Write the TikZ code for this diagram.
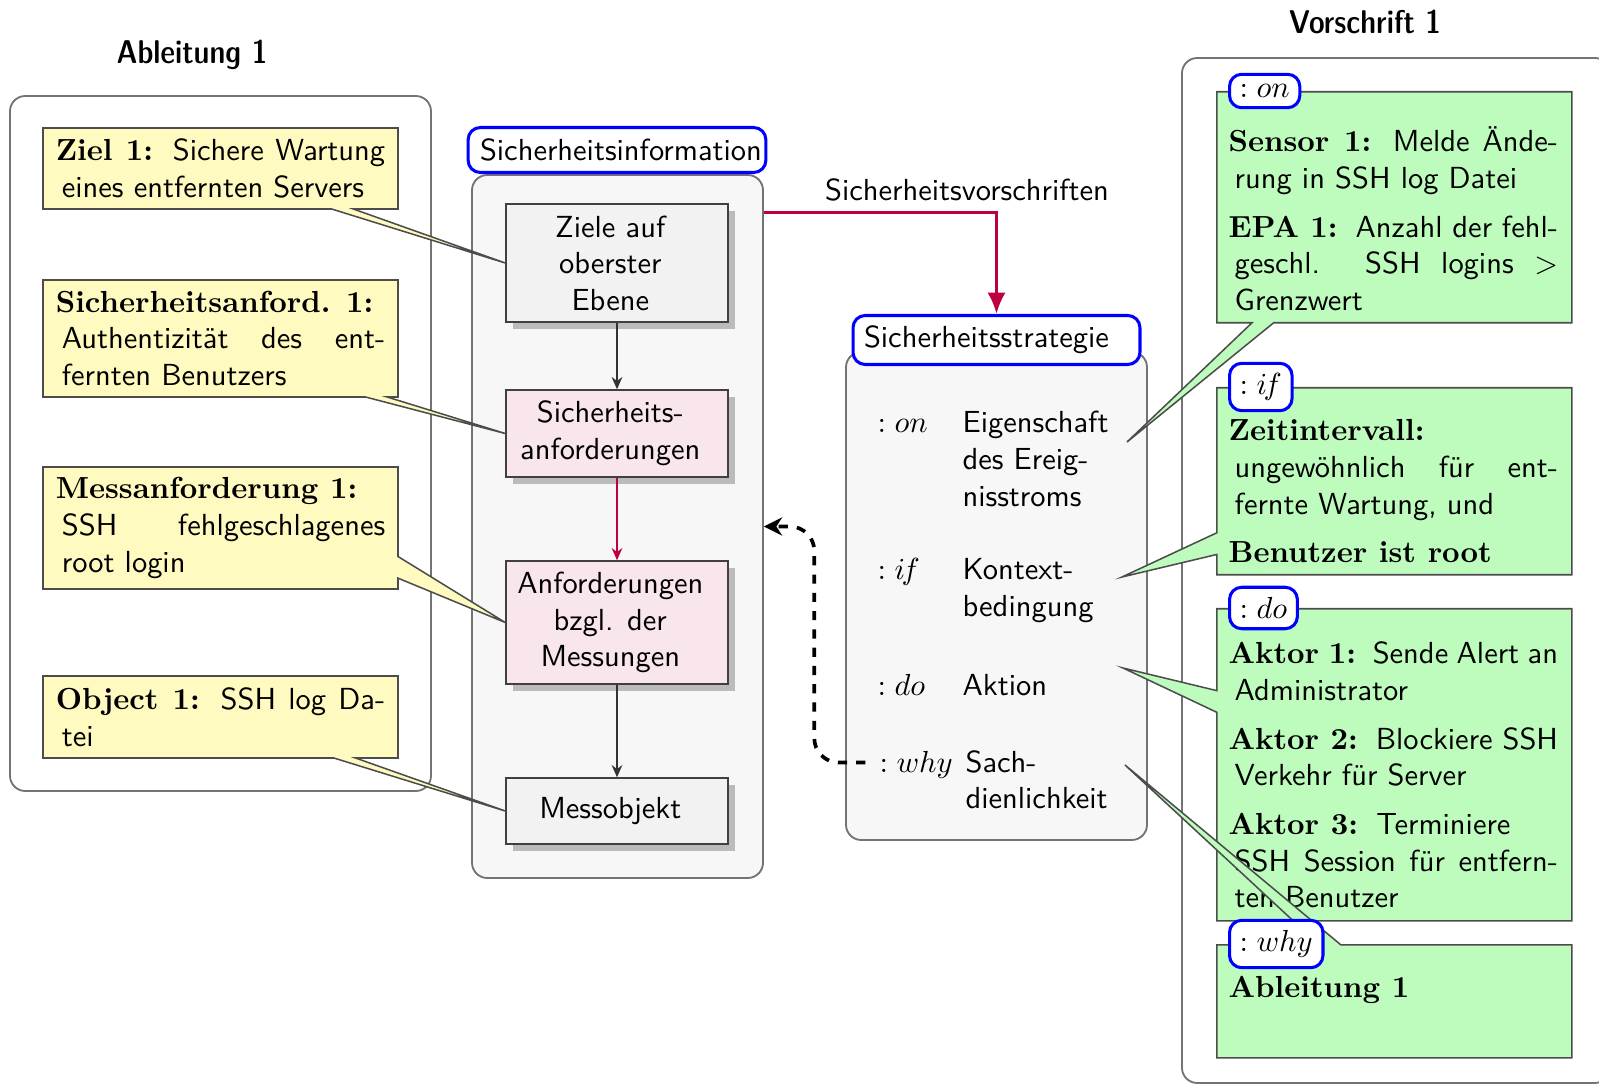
\documentclass[tikz,border=0pt]{standalone}
\usepackage{fontspec}
\newfontfamily\dcfont{lmsansdemicond10-regular.otf}
\usetikzlibrary{shapes.callouts,shadows,arrows.meta}

\newdimen\pxu \pxu=0.01153cm

\definecolor{notegelb}{RGB}{255,250,192}
\definecolor{notegruen}{RGB}{190,252,190}
\definecolor{rosa}{RGB}{249,229,236}
\definecolor{pfeilrot}{RGB}{191,0,64}

% bold serif label inside the sans text
\newcommand\lbl[1]{\textrm{\bfseries #1}\hskip 6pt plus 2pt minus 1pt}
\newcommand\bft[1]{\textrm{\bfseries #1}}
% lines of the notes: label lines start flush, continuation lines slightly indented
\newcommand\ljline[1]{\hbox to\hsize{#1}}
\newcommand\leline[1]{\hbox{#1}}
\newcommand\jline[1]{\hbox to\hsize{\kern2pt #1}}
\newcommand\eline[1]{\hbox{\kern2pt #1}}
% text blocks of the notes
\newcommand\ptext[1]{\vtop{\hsize=3.8cm\baselineskip=12pt #1}}
\newcommand\ntext[1]{\vbox{\hsize=3.8cm\baselineskip=12pt #1}}
\newcommand\stext[1]{\vtop{\baselineskip=12pt #1}}

\begin{document}
\begin{tikzpicture}[x=0.01153cm, y=-0.01153cm, font=\sffamily,
  rahmenbox/.style={draw=black!55, line width=0.6pt, rounded corners=5pt, inner sep=0pt},
  kopf/.style={draw=blue, line width=1pt, rounded corners=4pt, fill=white, align=left},
  marke/.style={draw=blue, line width=1pt, rounded corners=4pt, fill=white, anchor=west},
  ebene/.style={draw=black!75, line width=0.5pt, minimum width=222*\pxu, drop shadow},
  ebenetext/.style={align=center, xshift=-2.2pt},
  gelb/.style={rectangle callout, draw=black!70, line width=0.5pt, fill=notegelb,
    minimum width=355*\pxu, inner xsep=4.2pt, inner ysep=2pt},
  gruen/.style={rectangle callout, draw=black!70, line width=0.5pt, fill=notegruen,
    minimum width=355*\pxu, anchor=north west},
  eintrag/.style={anchor=base west, inner sep=0pt},
  fluss/.style={-{Stealth[length=4pt,width=3.5pt]}, line width=0.5pt},
  ueber/.style={font=\dcfont\fontsize{10.8pt}{13pt}\selectfont},
]
\useasboundingbox (0,0) rectangle (1599,1086);

% ---------- frames ----------
\node[rahmenbox, minimum width=421*\pxu, minimum height=695*\pxu] (abl) at (220.5,443.5) {};
\node[rahmenbox, fill=black!3, minimum width=291*\pxu, minimum height=703*\pxu] (info) at (617.5,526.5) {};
\node[rahmenbox, fill=black!3, minimum width=301*\pxu, minimum height=488*\pxu] (strat) at (996.5,596) {};
\node[rahmenbox, minimum width=428*\pxu, minimum height=1025*\pxu] (vor) at (1396,570.5) {};

\node[ueber] (abl-t) at (192,55) {Ableitung 1};
\node[ueber] (vor-t) at (1365,22) {Vorschrift 1};

\node[kopf, text width=274*\pxu, inner xsep=3.9pt, minimum height=45*\pxu] (info-t) at (617,150)
  {\mbox{Sicherheitsinformation}};
\node[kopf, text width=265*\pxu, inner xsep=3.6pt, minimum height=49*\pxu] (strat-t) at (996.5,340)
  {\mbox{Sicherheitsstrategie}};

% ---------- information levels ----------
\node[ebene, fill=black!5, minimum height=118*\pxu,
  label={[ebenetext]center:Ziele auf\\oberster\\Ebene}] (ziele) at (617,263) {};
\node[ebene, fill=rosa, minimum height=87*\pxu,
  label={[ebenetext]center:Sicherheits-\\anforderungen}] (sich) at (617,433.5) {};
\node[ebene, fill=rosa, minimum height=123*\pxu,
  label={[ebenetext]center:Anforderungen\\bzgl. der\\Messungen}] (anf) at (617,622.5) {};
\node[ebene, fill=black!5, minimum height=66*\pxu,
  label={[ebenetext]center:Messobjekt}] (mobj) at (617,811) {};

\draw[fluss, black!80] (ziele) -- (sich);
\draw[fluss, pfeilrot] (sich) -- (anf);
\draw[fluss, black!80] (anf) -- (mobj);

% ---------- strategy entries ----------
\node[eintrag] (s-on) at (877,433) {$:on$};
\node[eintrag] (s-on-t) at (962,433) {\stext{\hbox{Eigenschaft}\hbox{des Ereig-}\hbox{nisstroms}}};
\node[eintrag] (s-if) at (877,580) {$:i\mkern-2mu f$};
\node[eintrag] (s-if-t) at (962,580) {\stext{\hbox{Kontext-}\hbox{bedingung}}};
\node[eintrag] (s-do) at (877,696) {$:do$};
\node[eintrag] (s-do-t) at (962,696) {\stext{\hbox{Aktion}}};
\node[eintrag] (s-why) at (879,772) {$:why$};
\node[eintrag] (s-why-t) at (965,772) {\stext{\hbox{Sach-}\hbox{dienlichkeit}}};

\coordinate (p-on) at (1127,442);
\coordinate (p-if) at (1122,577);
\coordinate (p-do) at (1123,668);
\coordinate (p-why) at (1125,765);

% ---------- connections ----------
\draw[pfeilrot, line width=1.1pt, -{Latex[length=7pt,width=6pt]}] (info.65) -| (strat-t.north);
\node (vs-lbl) at (967,190) {Sicherheitsvorschriften};

\draw[dashed, line width=1.2pt, rounded corners=8pt, -{Stealth[length=6pt,width=6pt]}]
  ([xshift=-4.5pt,yshift=0.6pt]s-why.west) -- ++(-51,0) |- (info.east);

% ---------- derivation notes ----------
\node[gelb, minimum height=81*\pxu, callout absolute pointer={(ziele.west)}] (y-ziel) at (220.5,168.5)
  {\ntext{\ljline{\lbl{Ziel 1:}Sichere Wartung}\eline{eines entfernten Servers}}};
\node[gelb, minimum height=117*\pxu, callout absolute pointer={(sich.west)}] (y-sich) at (220.5,338.5)
  {\ntext{\leline{\bft{Sicherheitsanford. 1:}}\jline{Authentizität des ent-}\eline{fernten Benutzers}}};
\node[gelb, minimum height=122*\pxu, callout absolute pointer={(anf.west)}] (y-mess) at (220.5,528)
  {\ntext{\leline{\bft{Messanforderung 1:}}\jline{SSH fehlgeschlagenes}\eline{root login}}};
\node[gelb, minimum height=82*\pxu, callout absolute pointer={(mobj.west)}] (y-obj) at (220.5,717)
  {\ntext{\ljline{\lbl{Object 1:}SSH log Da-}\eline{tei}}};

% ---------- rule notes ----------
\node[gruen, minimum height=231*\pxu, callout absolute pointer={(p-on)}] (g-on) at (1216,91) {};
\node[eintrag] (g-on-t) at (1228,152) {\ptext{%
  \ljline{\lbl{Sensor 1:}Melde Ände-}\eline{rung in SSH log Datei}\vskip4pt
  \ljline{\lbl{EPA 1:}Anzahl der fehl-}\jline{geschl. SSH logins $>$}\eline{Grenzwert}}};

\node[gruen, minimum height=187*\pxu, callout absolute pointer={(p-if)}] (g-if) at (1216,387) {};
\node[eintrag] (g-if-t) at (1228,441) {\ptext{%
  \leline{\bft{Zeitintervall:}}\jline{ungewöhnlich für ent-}\eline{fernte Wartung, und}\vskip4pt
  \leline{\bft{Benutzer ist root}}}};

\node[gruen, minimum height=312*\pxu, callout absolute pointer={(p-do)}] (g-do) at (1216,608) {};
\node[eintrag] (g-do-t) at (1228,664) {\ptext{%
  \ljline{\lbl{Aktor 1:}Sende Alert an}\eline{Administrator}\vskip4pt
  \ljline{\lbl{Aktor 2:}Blockiere SSH}\eline{Verkehr für Server}\vskip4pt
  \leline{\lbl{Aktor 3:}Terminiere}\jline{SSH Session für entfern-}\eline{ten Benutzer}}};

\node[gruen, minimum height=113*\pxu, callout absolute pointer={(p-why)}] (g-why) at (1216,944) {};
\node[eintrag] (g-why-t) at (1228,997) {\ptext{\leline{\bft{Ableitung 1}}}};

\node[marke] (m-on) at (1228,91) {$:on$};
\node[marke] (m-if) at (1228,387) {$:i\mkern-2mu f$};
\node[marke] (m-do) at (1228,608) {$:do$};
\node[marke] (m-why) at (1228,944) {$:why$};
\end{tikzpicture}
\end{document}
